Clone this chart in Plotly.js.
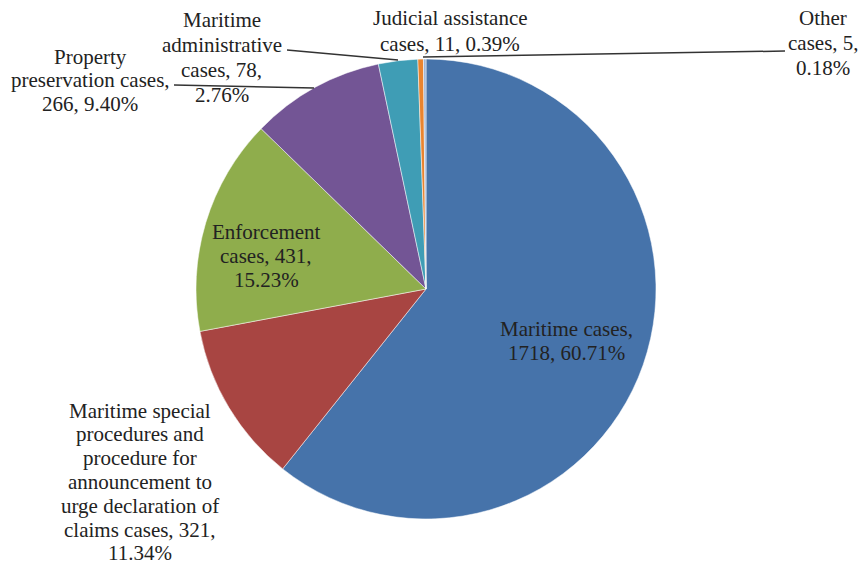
<!DOCTYPE html>
<html>
<head>
<meta charset="utf-8">
<script src="https://cdn.plot.ly/plotly-3.0.1.min.js"></script>
<style>html,body{margin:0;padding:0;background:#fff;}#chart{width:864px;height:568px;}</style>
</head>
<body>
<div id="chart"></div>
<script>
// Data
const categories = [
  "Maritime cases",
  "Maritime special procedures and procedure for announcement to urge declaration of claims cases",
  "Enforcement cases",
  "Property preservation cases",
  "Maritime administrative cases",
  "Judicial assistance cases",
  "Other cases"
];
const caseCounts = [1718, 321, 431, 266, 78, 11, 5];
const percentLabels = ["60.71%", "11.34%", "15.23%", "9.40%", "2.76%", "0.39%", "0.18%"];
const labelTexts = [
  "Maritime cases,<br>1718, 60.71%",
  "Maritime special<br>procedures and<br>procedure for<br>announcement to<br>urge declaration of<br>claims cases, 321,<br>11.34%",
  "Enforcement<br>cases, 431,<br>15.23%",
  "Property<br>preservation cases,<br>266, 9.40%",
  "Maritime<br>administrative<br>cases, 78,<br>2.76%",
  "Judicial assistance<br>cases, 11, 0.39%",
  "Other<br>cases, 5,<br>0.18%"
];
const sliceColors = ["#4673AA", "#A84542", "#8FAD4C", "#735595", "#3F9DB5", "#E9842F", "#9DB5D6"];

// Label placement (pixel positions of label centers)
const W = 864, H = 568;
const lineGaps = [24, 23.8, 24, 23.5, 25, 26, 25];
const labelPos = [
  [566, 341], [140, 482], [266, 256], [90, 80], [222, 57], [450, 31], [823, 43]
];
const leaders = [
  null, null, null,
  [[174, 85], [314, 88]],
  [[287, 50], [398, 60]],
  null,
  [[423, 57], [785, 51]]
];

const annotations = [];
labelTexts.forEach((t, i) => {
  const lines = t.split('<br>');
  const n = lines.length;
  lines.forEach((ln, k) => {
    const py = labelPos[i][1] + (k - (n - 1) / 2) * lineGaps[i];
    annotations.push({
      x: labelPos[i][0] / W, y: 1 - py / H,
      xref: 'paper', yref: 'paper', xanchor: 'center', yanchor: 'middle',
      text: ln, showarrow: false, align: 'center', borderpad: 0,
      font: {family: 'Liberation Serif', size: 21, color: '#222'}
    });
  });
});
const shapes = leaders.filter(l => l).map(l => ({
  type: 'line', xref: 'paper', yref: 'paper',
  x0: l[0][0] / W, y0: 1 - l[0][1] / H, x1: l[1][0] / W, y1: 1 - l[1][1] / H,
  line: {color: '#333', width: 1.5}
}));

const trace = {
  type: 'pie',
  labels: categories,
  values: caseCounts,
  sort: false,
  direction: 'clockwise',
  rotation: 0,
  textinfo: 'none',
  hoverinfo: 'label+value+percent',
  marker: {colors: sliceColors, line: {color: '#ffffff', width: 0.5}},
  domain: {x: [196 / W, 656 / W], y: [1 - 519 / H, 1 - 59 / H]},
  showlegend: false
};

Plotly.newPlot('chart', [trace], {
  width: W, height: H,
  margin: {l: 0, r: 0, t: 0, b: 0},
  paper_bgcolor: '#fff', plot_bgcolor: '#fff',
  showlegend: false,
  font: {family: 'Liberation Serif'},
  annotations: annotations,
  shapes: shapes
}, {displayModeBar: false, staticPlot: true});
</script>
</body>
</html>
